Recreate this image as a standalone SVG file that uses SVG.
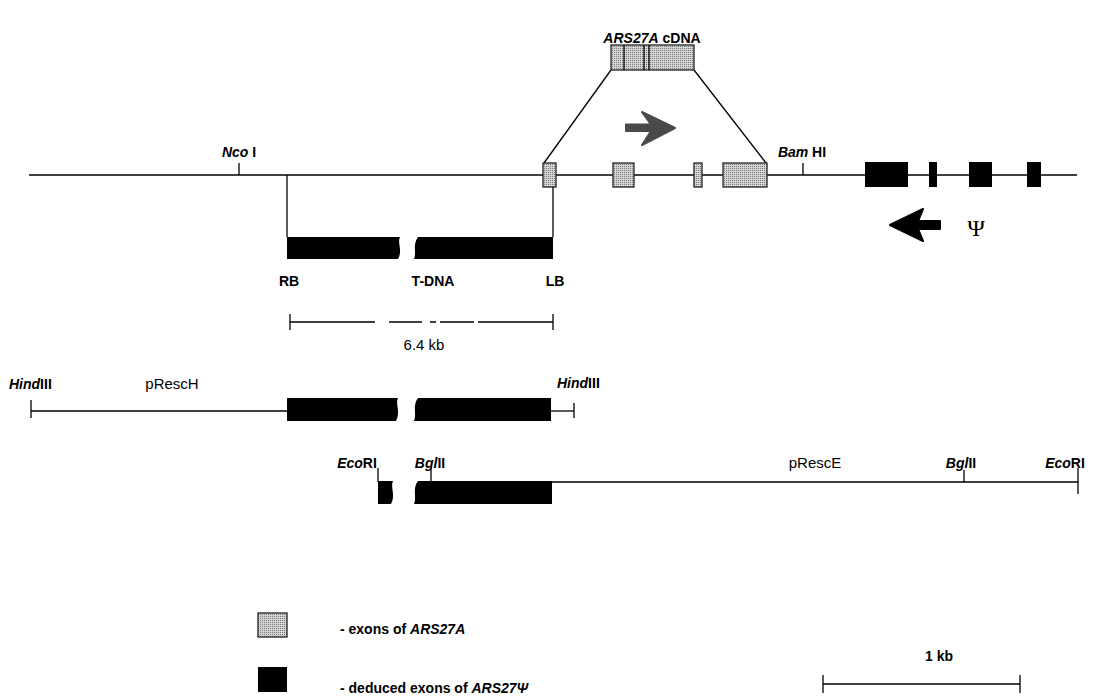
<svg xmlns="http://www.w3.org/2000/svg" width="1097" height="700" viewBox="0 0 1097 700">
<defs>
<pattern id="dots" width="2" height="2" patternUnits="userSpaceOnUse"><rect width="2" height="2" fill="#d4d4d4"/><rect width="1" height="1" fill="#7a7a7a"/></pattern>
<style>
.ln{stroke:#000;stroke-width:1.3;fill:none}
.gx{fill:url(#dots);stroke:#222;stroke-width:1.3}
.bx{fill:#000}
.lb{font-family:"Liberation Sans",Arial,sans-serif;font-weight:bold;font-size:14px;fill:#000}
.it{font-style:italic}
.rg{font-family:"Liberation Sans",Arial,sans-serif;font-size:15px;fill:#000}
</style>
</defs>
<rect width="1097" height="700" fill="#fff"/>

<g id="connectors">
<line class="ln" x1="29" y1="175" x2="1077" y2="175"/>
<line class="ln" x1="239" y1="163" x2="239" y2="175"/>
<line class="ln" x1="803" y1="163" x2="803" y2="175"/>
<line class="ln" x1="287" y1="175" x2="287" y2="237"/>
<line class="ln" x1="553" y1="175" x2="553" y2="237"/>
<line class="ln" x1="611" y1="70" x2="544" y2="163"/>
<line class="ln" x1="694" y1="70" x2="766" y2="163"/>
<line class="ln" x1="290" y1="314" x2="290" y2="330"/>
<line class="ln" x1="553" y1="314" x2="553" y2="330"/>
<path class="ln" d="M290,322H375M389,322H422M430,322H436M440,322H474M478,322H553"/>
<line class="ln" x1="31" y1="411" x2="287" y2="411"/>
<line class="ln" x1="31" y1="400" x2="31" y2="418"/>
<line class="ln" x1="551" y1="411" x2="574" y2="411"/>
<line class="ln" x1="574" y1="403" x2="574" y2="418"/>
<line class="ln" x1="378" y1="468" x2="378" y2="482"/>
<line class="ln" x1="431" y1="468" x2="431" y2="482"/>
<line class="ln" x1="552" y1="482" x2="1078" y2="482"/>
<line class="ln" x1="964" y1="470" x2="964" y2="482"/>
<line class="ln" x1="1078" y1="468" x2="1078" y2="494"/>
<line class="ln" x1="823" y1="684" x2="1020" y2="684"/>
<line class="ln" x1="823" y1="675" x2="823" y2="693"/>
<line class="ln" x1="1020" y1="675" x2="1020" y2="693"/>
</g>

<g id="cdna">
<rect class="gx" x="611" y="45" width="83" height="25"/>
<line class="ln" x1="624" y1="45" x2="624" y2="70"/>
<line class="ln" x1="644" y1="45" x2="644" y2="70"/>
<line class="ln" x1="649" y1="45" x2="649" y2="70"/>
<text class="lb" x="652" y="43" text-anchor="middle"><tspan class="it">ARS27A</tspan> cDNA</text>
</g>

<g id="arrow-grey">
<path d="M626,124.5H651L642,112L675,128L642,145L651,131H626Z" fill="#4a4a4a" stroke="#4a4a4a" stroke-width="2" stroke-linejoin="round"/>
</g>

<g id="exons-a">
<rect class="gx" x="543" y="163" width="13" height="24"/>
<rect class="gx" x="613" y="163" width="21" height="24"/>
<rect class="gx" x="694" y="163" width="8" height="24"/>
<rect class="gx" x="723" y="163" width="44" height="24"/>
</g>

<g id="exons-psi">
<rect class="bx" x="865" y="162" width="43" height="25"/>
<rect class="bx" x="929" y="162" width="8" height="25"/>
<rect class="bx" x="969" y="162" width="23" height="25"/>
<rect class="bx" x="1027" y="162" width="14" height="25"/>
</g>

<g id="arrow-black">
<path d="M940,221H918L923,209L890,225L923,241L918,229H940Z" fill="#000" stroke="#000" stroke-width="2" stroke-linejoin="round"/>
<text x="976" y="236" text-anchor="middle" font-family="'Liberation Serif','Times New Roman',serif" font-size="24" fill="#000">Ψ</text>
</g>

<g id="labels-top">
<text class="lb" x="239" y="157" text-anchor="middle"><tspan class="it">Nco</tspan> I</text>
<text class="lb" x="802" y="157" text-anchor="middle"><tspan class="it">Bam</tspan> HI</text>
</g>

<g id="tdna">
<path class="bx" d="M287,237H400C397,243 403,250 398,259H287Z"/>
<path class="bx" d="M418,237H553V259H414C417,252 412,246 418,237Z"/>
<text class="lb" x="289" y="286" text-anchor="middle">RB</text>
<text class="lb" x="433" y="286" text-anchor="middle">T-DNA</text>
<text class="lb" x="555" y="286" text-anchor="middle">LB</text>
<text class="rg" x="424" y="350" text-anchor="middle">6.4 kb</text>
</g>

<g id="prescH">
<path class="bx" d="M287,398H398C395,404 401,412 396,421H287Z"/>
<path class="bx" d="M418,398H551V421H414C417,413 412,406 418,398Z"/>
<text class="lb" x="9" y="389"><tspan class="it">Hind</tspan>III</text>
<text class="lb" x="557" y="388"><tspan class="it">Hind</tspan>III</text>
<text class="rg" x="172" y="389" text-anchor="middle">pRescH</text>
</g>

<g id="prescE">
<path class="bx" d="M378,481H393C390,487 396,495 391,504H378Z"/>
<path class="bx" d="M418,481H552V504H414C417,496 412,489 418,481Z"/>
<text class="lb" x="357" y="468" text-anchor="middle"><tspan class="it">Eco</tspan>RI</text>
<text class="lb" x="430" y="468" text-anchor="middle"><tspan class="it">Bgl</tspan>II</text>
<text class="lb" x="961" y="468" text-anchor="middle"><tspan class="it">Bgl</tspan>II</text>
<text class="lb" x="1065" y="468" text-anchor="middle"><tspan class="it">Eco</tspan>RI</text>
<text class="rg" x="815" y="468" text-anchor="middle">pRescE</text>
</g>

<g id="legend">
<rect class="gx" x="258" y="613" width="29" height="24"/>
<text class="lb" x="340" y="634">- exons of <tspan class="it">ARS27A</tspan></text>
<rect class="bx" x="258" y="667" width="29" height="25"/>
<text class="lb" x="340" y="693">- deduced exons of <tspan class="it">ARS27Ψ</tspan></text>
<text class="lb" x="939" y="661" text-anchor="middle">1 kb</text>
</g>
</svg>
